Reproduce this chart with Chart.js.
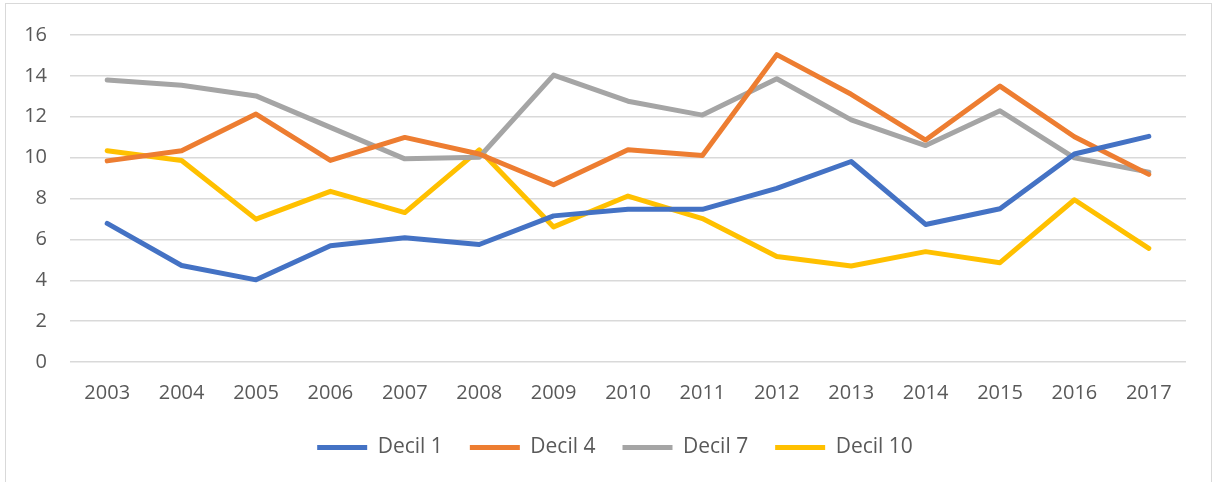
<!DOCTYPE html>
<html>
<head>
<meta charset="utf-8">
<script src="https://cdn.jsdelivr.net/npm/chart.js@4.4.1/dist/chart.umd.min.js"></script>
<style>
    html, body { margin: 0; padding: 0; background: #ffffff; }
    #wrap { position: relative; width: 1216px; height: 482px; }
    #frame { position: absolute; left: 5px; top: 3px; width: 1207px; height: 485px; border: 1px solid #d9d9d9; box-sizing: border-box; }
    canvas { position: absolute; left: 0; top: 0; }
</style>
</head>
<body>
<div id="wrap">
    <div id="frame"></div>
    <canvas id="deciles" width="1216" height="482"></canvas>
</div>
<script>
const years = ['2003', '2004', '2005', '2006', '2007', '2008', '2009', '2010', '2011', '2012', '2013', '2014', '2015', '2016', '2017'];
const decil1 = [6.78, 4.72, 4.02, 5.69, 6.08, 5.75, 7.15, 7.47, 7.47, 8.5, 9.81, 6.73, 7.5, 10.18, 11.04];
const decil4 = [9.84, 10.34, 12.13, 9.86, 10.99, 10.18, 8.67, 10.38, 10.1, 15.04, 13.1, 10.86, 13.5, 11.02, 9.18];
const decil7 = [13.8, 13.54, 13.02, 11.48, 9.94, 10.02, 14.04, 12.76, 12.08, 13.86, 11.85, 10.59, 12.29, 9.99, 9.29];
const decil10 = [10.34, 9.86, 6.99, 8.35, 7.31, 10.38, 6.61, 8.12, 7.02, 5.16, 4.7, 5.4, 4.86, 7.94, 5.56];
const yTicks = [0, 2, 4, 6, 8, 10, 12, 14, 16];

const textColor = '#595959';
const gridColor = '#d9d9d9';
const font = { family: 'Open Sans', size: 20 };

function serie(label, data, color) {
    return {
        label: label,
        data: data,
        borderColor: color,
        backgroundColor: color,
        borderWidth: 5,
        borderCapStyle: 'round',
        borderJoinStyle: 'round',
        pointRadius: 0,
        pointHoverRadius: 0,
        tension: 0,
        fill: false
    };
}

// the legend sits centred under the plot area, not under the whole canvas
const legendShift = {
    id: 'legendShift',
    afterLayout(chart) {
        if (chart.legend) chart.legend.left = chart.chartArea.left - 26;
    }
};

window.addEventListener('load', function () {
    const ctx = document.getElementById('deciles').getContext('2d');
    new Chart(ctx, {
        type: 'line',
        data: {
            labels: years,
            datasets: [
                serie('Decil 1', decil1, '#4472c4'),
                serie('Decil 4', decil4, '#ed7d31'),
                serie('Decil 7', decil7, '#a5a5a5'),
                serie('Decil 10', decil10, '#ffc000')
            ]
        },
        options: {
            responsive: false,
            animation: false,
            layout: { padding: { left: 0, right: 30, top: 16, bottom: 14 } },
            plugins: {
                tooltip: { enabled: false },
                legend: {
                    position: 'bottom',
                    labels: {
                        usePointStyle: true,
                        pointStyle: 'line',
                        pointStyleWidth: 50,
                        color: textColor,
                        font: { family: 'Open Sans', size: 21 },
                        padding: 27
                    }
                }
            },
            scales: {
                x: {
                    offset: true,
                    afterFit: function (scale) { scale.height = 48; },
                    grid: { display: false, drawTicks: false },
                    border: { display: false },
                    ticks: {
                        color: textColor,
                        font: font,
                        padding: 19,
                        maxRotation: 0
                    }
                },
                y: {
                    min: 0,
                    max: 16,
                    afterFit: function (scale) { scale.width = 70; },
                    afterBuildTicks: function (scale) {
                        scale.ticks = yTicks.map(v => ({ value: v }));
                    },
                    grid: { color: gridColor, lineWidth: 1.5, drawTicks: false },
                    border: { display: false },
                    ticks: {
                        color: textColor,
                        font: font,
                        padding: 23
                    }
                }
            }
        },
        plugins: [legendShift]
    });
});
</script>
</body>
</html>
